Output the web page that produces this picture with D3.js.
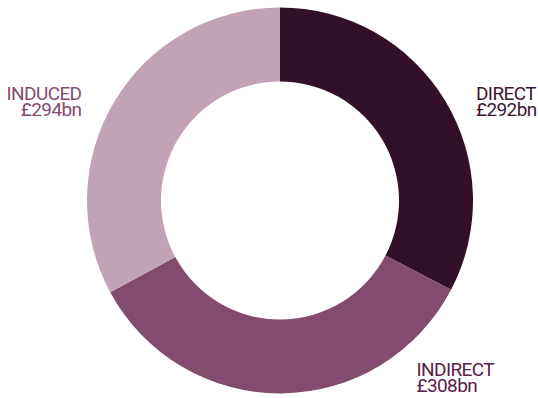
<!DOCTYPE html>
<html>
<head>
<meta charset="utf-8">
<script src="https://cdn.jsdelivr.net/npm/d3@7"></script>
<style>
  body { margin: 0; background: #fff; }
  text { font-family: Roboto, "DejaVu Sans Condensed", sans-serif; }
</style>
</head>
<body>
<div id="chart"></div>
<script>
// chart data
const categories = ['DIRECT', 'INDIRECT', 'INDUCED'];
const values = [292, 308, 294];
const valueLabels = ['£292bn', '£308bn', '£294bn'];
const colors = ['#321027', '#834B6E', '#C2A3B6'];
const labelColors = ['#3d1633', '#5a2049', '#834B6E'];

const width = 538;
const height = 398;
const cx = 280;
const cy = 200.5;
const outerRadius = 193;
const innerRadius = 119;

const svg = d3.select('#chart').append('svg')
  .attr('width', width)
  .attr('height', height);

const g = svg.append('g')
  .attr('transform', `translate(${cx},${cy})`);

const pie = d3.pie()
  .sort(null)
  .value((d) => d);

const arc = d3.arc()
  .innerRadius(innerRadius)
  .outerRadius(outerRadius);

g.selectAll('.arc')
  .data(pie(values))
  .enter()
  .append('path')
  .attr('class', 'arc')
  .attr('d', arc)
  .attr('fill', (d, i) => colors[i]);

// label placement: [x, y of first baseline, anchor]
const labelPos = [
  [476, 99.5, 'start'],
  [416.5, 376, 'start'],
  [81.5, 100, 'end']
];

const labels = svg.selectAll('.label')
  .data(categories)
  .enter()
  .append('text')
  .attr('class', 'label')
  .attr('x', (d, i) => labelPos[i][0])
  .attr('y', (d, i) => labelPos[i][1])
  .attr('text-anchor', (d, i) => labelPos[i][2])
  .attr('fill', (d, i) => labelColors[i])
  .style('font-size', '19px')
  .style('letter-spacing', '-0.6px');

labels.append('tspan')
  .attr('x', (d, i) => labelPos[i][0])
  .text((d) => d);

labels.append('tspan')
  .attr('x', (d, i) => labelPos[i][0])
  .attr('dy', 16)
  .text((d, i) => valueLabels[i]);
</script>
</body>
</html>
